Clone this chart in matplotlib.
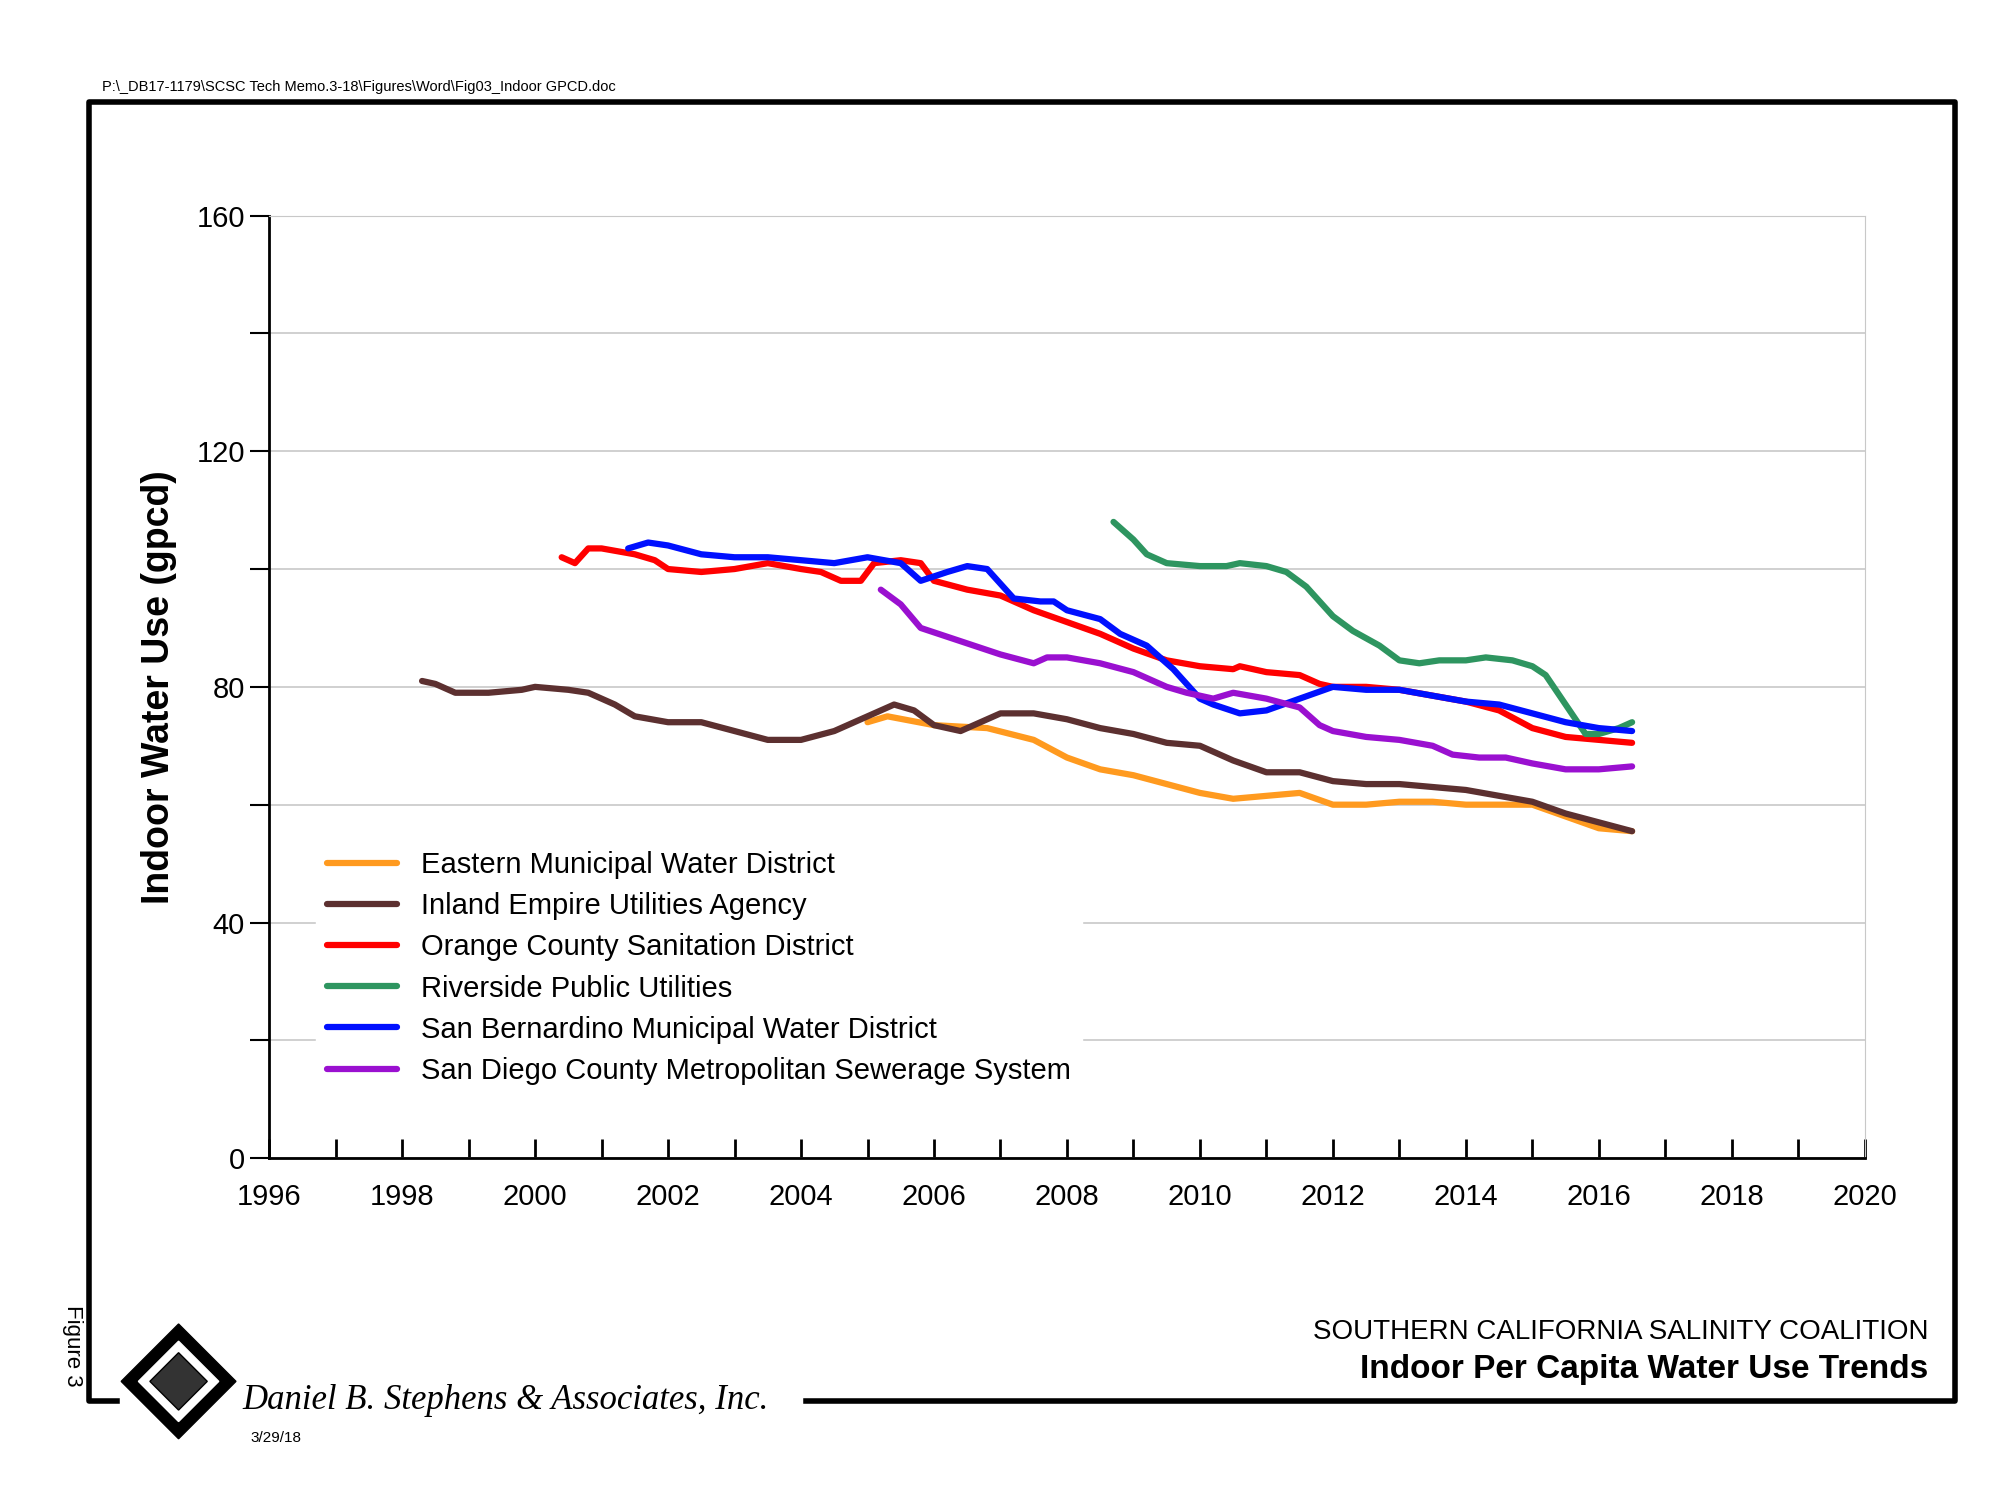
import matplotlib.pyplot as plt
from matplotlib.patches import Polygon
from matplotlib.lines import Line2D

plt.rcParams["font.family"] = ["Liberation Sans", "DejaVu Sans"]

# data
eastern_x = [2005.0, 2005.3, 2006.0, 2006.8, 2007.5, 2008.0, 2008.5, 2009.0, 2009.5, 2010.0, 2010.5, 2011.0,
             2011.5, 2012.0, 2012.5, 2013.0, 2013.5, 2014.0, 2014.5, 2015.0, 2015.5, 2016.0, 2016.5]
eastern_y = [74, 75, 73.5, 73, 71, 68, 66, 65, 63.5, 62, 61, 61.5, 62, 60, 60, 60.5, 60.5, 60, 60, 60, 58, 56, 55.5]

inland_x = [1998.3, 1998.5, 1998.8, 1999.3, 1999.8, 2000.0, 2000.5, 2000.8, 2001.2, 2001.5, 2002.0, 2002.5,
            2003.0, 2003.5, 2004.0, 2004.5, 2005.0, 2005.4, 2005.7, 2006.0, 2006.4, 2006.8, 2007.0, 2007.5,
            2008.0, 2008.5, 2009.0, 2009.5, 2010.0, 2010.5, 2011.0, 2011.5, 2012.0, 2012.5, 2013.0, 2013.5,
            2014.0, 2014.5, 2015.0, 2015.5, 2016.0, 2016.5]
inland_y = [81, 80.5, 79, 79, 79.5, 80, 79.5, 79, 77, 75, 74, 74, 72.5, 71, 71, 72.5, 75, 77, 76, 73.5, 72.5,
            74.5, 75.5, 75.5, 74.5, 73, 72, 70.5, 70, 67.5, 65.5, 65.5, 64, 63.5, 63.5, 63, 62.5, 61.5, 60.5,
            58.5, 57, 55.5]

orange_x = [2000.4, 2000.6, 2000.8, 2001.0, 2001.5, 2001.8, 2002.0, 2002.5, 2003.0, 2003.5, 2004.0, 2004.3,
            2004.6, 2004.9, 2005.1, 2005.5, 2005.8, 2006.0, 2006.5, 2007.0, 2007.5, 2008.0, 2008.5, 2009.0,
            2009.5, 2010.0, 2010.5, 2010.6, 2011.0, 2011.5, 2011.8, 2012.0, 2012.5, 2013.0, 2013.5, 2014.0,
            2014.5, 2015.0, 2015.5, 2016.0, 2016.5]
orange_y = [102, 101, 103.5, 103.5, 102.5, 101.5, 100, 99.5, 100, 101, 100, 99.5, 98, 98, 101, 101.5, 101, 98,
            96.5, 95.5, 93, 91, 89, 86.5, 84.5, 83.5, 83, 83.5, 82.5, 82, 80.5, 80, 80, 79.5, 78.5, 77.5, 76,
            73, 71.5, 71, 70.5]

river_x = [2008.7, 2009.0, 2009.2, 2009.5, 2010.0, 2010.4, 2010.6, 2011.0, 2011.3, 2011.6, 2012.0, 2012.3,
           2012.7, 2013.0, 2013.3, 2013.6, 2014.0, 2014.3, 2014.7, 2015.0, 2015.2, 2015.5, 2015.8, 2016.0,
           2016.3, 2016.5]
river_y = [108, 105, 102.5, 101, 100.5, 100.5, 101, 100.5, 99.5, 97, 92, 89.5, 87, 84.5, 84, 84.5, 84.5, 85,
           84.5, 83.5, 82, 77, 72, 72, 73, 74]

sanbern_x = [2001.4, 2001.7, 2002.0, 2002.5, 2003.0, 2003.5, 2004.0, 2004.5, 2005.0, 2005.5, 2005.8, 2006.2,
             2006.5, 2006.8, 2007.2, 2007.6, 2007.8, 2008.0, 2008.5, 2008.8, 2009.2, 2009.6, 2010.0, 2010.2,
             2010.6, 2011.0, 2011.5, 2012.0, 2012.5, 2013.0, 2013.5, 2014.0, 2014.5, 2015.0, 2015.5, 2016.0,
             2016.5]
sanbern_y = [103.5, 104.5, 104, 102.5, 102, 102, 101.5, 101, 102, 101, 98, 99.5, 100.5, 100, 95, 94.5, 94.5,
             93, 91.5, 89, 87, 83, 78, 77, 75.5, 76, 78, 80, 79.5, 79.5, 78.5, 77.5, 77, 75.5, 74, 73, 72.5]

sandiego_x = [2005.2, 2005.5, 2005.8, 2006.2, 2006.6, 2007.0, 2007.5, 2007.7, 2008.0, 2008.5, 2009.0, 2009.5,
              2009.8, 2010.2, 2010.5, 2011.0, 2011.5, 2011.8, 2012.0, 2012.5, 2013.0, 2013.5, 2013.8, 2014.2,
              2014.6, 2015.0, 2015.5, 2016.0, 2016.5]
sandiego_y = [96.5, 94, 90, 88.5, 87, 85.5, 84, 85, 85, 84, 82.5, 80, 79, 78, 79, 78, 76.5, 73.5, 72.5, 71.5,
              71, 70, 68.5, 68, 68, 67, 66, 66, 66.5]

series = [
    ("Eastern Municipal Water District", eastern_x, eastern_y, "#ff9a1f"),
    ("Inland Empire Utilities Agency", inland_x, inland_y, "#5c3030"),
    ("Orange County Sanitation District", orange_x, orange_y, "#ff0000"),
    ("Riverside Public Utilities", river_x, river_y, "#2e9560"),
    ("San Bernardino Municipal Water District", sanbern_x, sanbern_y, "#0010ff"),
    ("San Diego County Metropolitan Sewerage System", sandiego_x, sandiego_y, "#9a10d0"),
]

W, H = 1568, 1176
fig = plt.figure(figsize=(20, 15), dpi=100)
ax = fig.add_axes([211 / W, 1 - 908 / H, (1462 - 211) / W, (908 - 169) / H])

for name, xs, ys, c in series:
    ax.plot(xs, ys, color=c, lw=4.5, label=name, solid_capstyle="round")

ax.set_xlim(1996, 2020)
ax.set_ylim(0, 160)
ax.set_xticks(range(1996, 2021, 2))
ax.set_xticks(range(1996, 2021), minor=True)
ax.set_yticks(range(0, 161, 40))
ax.set_yticks(range(0, 161, 20), minor=True)
ax.grid(True, which="both", axis="y", color="#c8c8c8", lw=1.2)
ax.set_axisbelow(True)
for s in ["top", "right"]:
    ax.spines[s].set_color("#c8c8c8")
ax.spines["left"].set_linewidth(2)
ax.spines["bottom"].set_linewidth(2)
ax.tick_params(axis="x", which="both", direction="in", length=14, width=2, labelsize=21, pad=18)
ax.tick_params(axis="y", which="both", direction="out", length=14, width=1.5, labelsize=21)
ax.set_ylabel("Indoor Water Use (gpcd)", fontsize=27, fontweight="bold", labelpad=14)

ax.legend(loc="lower left", bbox_to_anchor=(0.02, 0.05), fontsize=21, frameon=True,
          fancybox=False, edgecolor="white", framealpha=1, handlelength=2.4,
          labelspacing=0.45)

# page frame
fig.add_artist(Line2D(
    [632 / W, 1533 / W, 1533 / W, 70 / W, 70 / W, 92 / W],
    [1 - 1098 / H, 1 - 1098 / H, 1 - 80 / H, 1 - 80 / H, 1 - 1098 / H, 1 - 1098 / H], color="black", lw=4))

fig.text(80 / W, 1 - 68 / H, r"P:\_DB17-1179\SCSC Tech Memo.3-18\Figures\Word\Fig03_Indoor GPCD.doc",
         fontsize=10.5, va="center")
fig.text(57 / W, 1 - 1055 / H, "Figure 3", rotation=-90, fontsize=16, ha="center", va="center")

# logo
cx, cy = 140 / W, 1 - 1083 / H
dx, dy = 45 / W, 45 / H
fig.add_artist(Polygon([[cx, cy + dy], [cx + dx, cy], [cx, cy - dy], [cx - dx, cy]], closed=True,
                       facecolor="black", edgecolor="black"))
fig.add_artist(Polygon([[cx, cy + dy * 0.7], [cx + dx * 0.7, cy], [cx, cy - dy * 0.7], [cx - dx * 0.7, cy]],
                       closed=True, facecolor="white", edgecolor="white"))
fig.add_artist(Polygon([[cx, cy + dy * 0.5], [cx + dx * 0.5, cy], [cx, cy - dy * 0.5], [cx - dx * 0.5, cy]],
                       closed=True, facecolor="#333333", edgecolor="black"))
fig.text(190 / W, 1 - 1098 / H, "Daniel B. Stephens & Associates, Inc.", family="Liberation Serif",
         style="italic", fontsize=25, va="center")
fig.text(196 / W, 1 - 1127 / H, "3/29/18", fontsize=11, va="center")

fig.text(1512 / W, 1 - 1044 / H, "SOUTHERN CALIFORNIA SALINITY COALITION", fontsize=20, ha="right", va="center")
fig.text(1512 / W, 1 - 1074 / H, "Indoor Per Capita Water Use Trends", fontsize=24, fontweight="bold",
         ha="right", va="center")

fig.savefig("out.png")
